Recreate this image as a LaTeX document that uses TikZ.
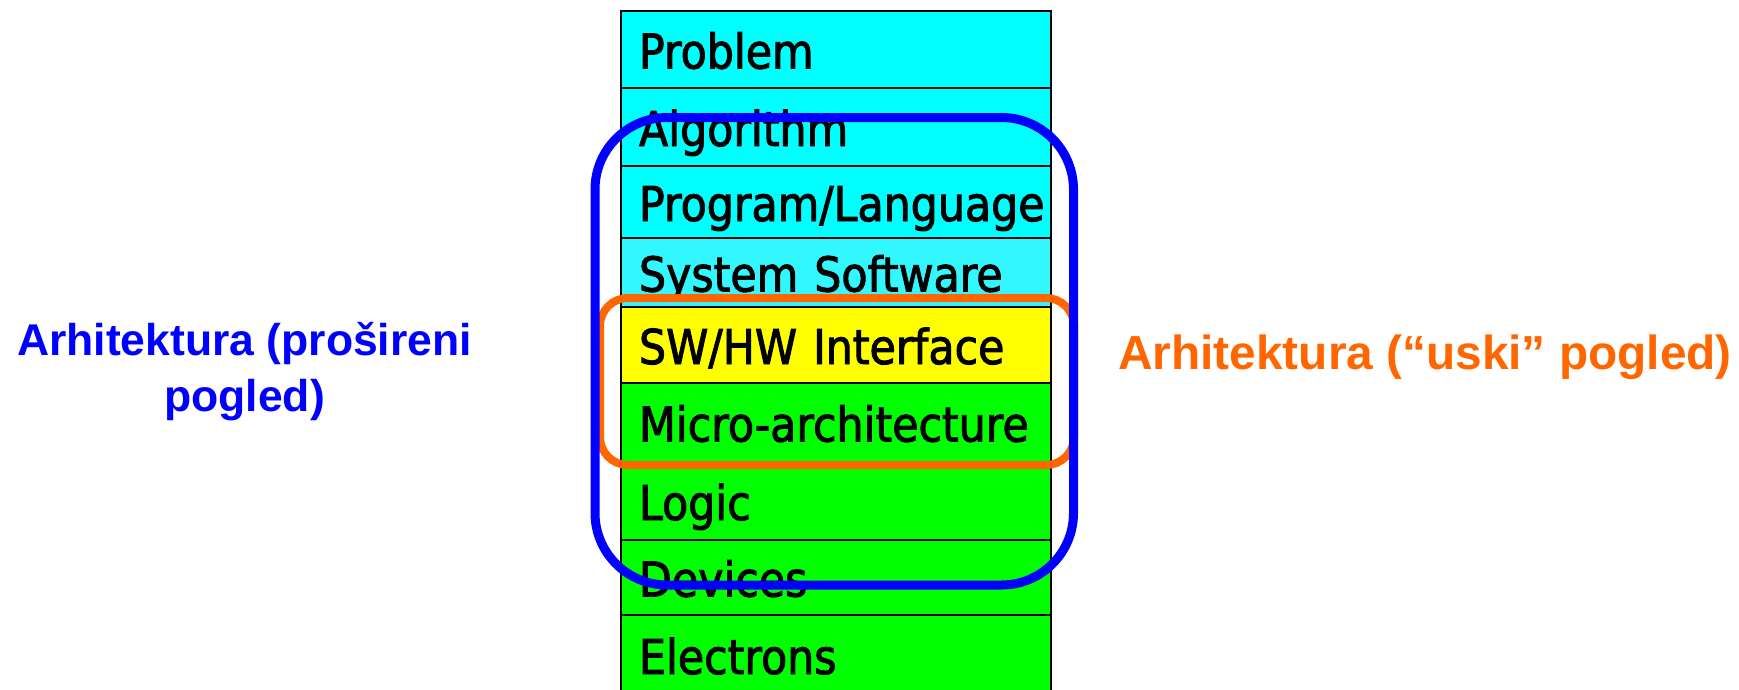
\documentclass[tikz,border=0pt]{standalone}
\usepackage{fontspec}
\usepackage{tikz}
\usetikzlibrary{positioning}

\newfontfamily\layerfont[FakeStretch=0.89,FakeBold=2]{DejaVu Sans}
\newfontfamily\viewfont{Liberation Sans}

\definecolor{swcyan}{RGB}{0,255,255}
\definecolor{syscyan}{RGB}{51,247,255}
\definecolor{ifaceyellow}{RGB}{255,255,0}
\definecolor{hwgreen}{RGB}{0,255,0}
\definecolor{narroworange}{RGB}{255,102,0}
\definecolor{wideblue}{RGB}{0,0,255}

\begin{document}
\begin{tikzpicture}[x=1pt,y=-1pt,
    layer/.style={draw,line width=1.5pt,outer sep=0pt,inner xsep=18pt,inner ysep=0pt,
      text width=394pt,align=left,text height=38pt,text depth=0pt,minimum height=#1,
      font=\layerfont\fontsize{48}{50}\selectfont},
    view/.style={font=\viewfont\bfseries\fontsize{#1}{56}\selectfont,align=center,anchor=base}]

  \useasboundingbox (0,0) rectangle (1739,689);

  % the layers, top to bottom
  \node [layer=77pt,fill=swcyan,anchor=north west] (prob) at (621,11) {Problem};
  \node [layer=78pt,fill=swcyan,below=0pt of prob]   (algo)  {Algorithm};
  \node [layer=72pt,fill=swcyan,below=0pt of algo]   (prog)  {Program/Language};
  \node [layer=69pt,fill=syscyan,below=0pt of prog]  (syssw) {System Software};
  \node [layer=76pt,fill=ifaceyellow,below=0pt of syssw] (iface) {SW/HW Interface};
  \node [layer=79pt,fill=hwgreen,below=0pt of iface] (uarch) {Micro-architecture};
  \node [layer=78pt,fill=hwgreen,below=0pt of uarch] (logic) {Logic};
  \node [layer=75pt,fill=hwgreen,below=0pt of logic] (dev)   {Devices};
  \node [layer=80pt,fill=hwgreen,below=0pt of dev]   (elec)  {Electrons};

  % narrow and wide view
  \draw [narroworange,line width=8pt,rounded corners=28pt] (600,298) rectangle (1074,465);
  \draw [wideblue,line width=9pt,rounded corners=72pt] (595,117.5) rectangle (1073.5,585);

  \node [view=44.5,text=wideblue] (widelab) at (244.5,411) {Arhitektura (prošireni\\pogled)};
  \node [view=47.8,text=narroworange] (narrowlab) at (1425,369) {Arhitektura (“uski” pogled)};

\end{tikzpicture}
\end{document}
